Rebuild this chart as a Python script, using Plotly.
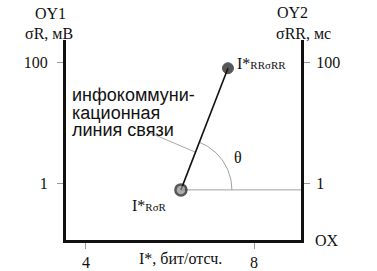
import math
import plotly.graph_objects as go

# ---- data ----
point_x = [6.26, 7.38]          # I*, бит/отсч.
point_y = [0.77, 79.0]          # σR (мВ) / σRR (мс), log scale
x_ticks = [4, 8]
x_tick_labels = ["4", "8"]
y_ticks = [1, 100]
y_tick_labels = ["1", "100"]
text_lines = ["инфокоммуни-", "кационная", "линия связи"]

W, H = 377, 271
ML, MR, MT, MB = 66, 76, 40, 31   # plot-area position in the screenshot
PW, PH = W - ML - MR, H - MT - MB
XR = [3.524, 9.119]
YR = [-0.942, 2.364]  # log10

def d2px(x, y):
    px = ML + (x - XR[0]) / (XR[1] - XR[0]) * PW
    py = MT + (YR[1] - math.log10(y)) / (YR[1] - YR[0]) * PH
    return px, py

def px2d(px, py):
    x = XR[0] + (px - ML) / PW * (XR[1] - XR[0])
    y = 10 ** (YR[1] - (py - MT) / PH * (YR[1] - YR[0]))
    return x, y

def px2paper(px, py):
    return (px - ML) / PW, (MT + PH - py) / PH

fig = go.Figure()

# horizontal reference line from lower point to the right axis
fig.add_trace(go.Scatter(x=[point_x[0], XR[1]], y=[point_y[0], point_y[0]], mode="lines",
                         line=dict(color="#a0a0a0", width=1), hoverinfo="skip", showlegend=False))

# angle arc
p0 = d2px(point_x[0], point_y[0])
p1 = d2px(point_x[1], point_y[1])
theta = math.atan2(p0[1] - p1[1], p1[0] - p0[0])
R = 51
ax_, ay_ = [], []
for i in range(41):
    a = theta * i / 40
    x, y = px2d(p0[0] + R * math.cos(a), p0[1] - R * math.sin(a))
    ax_.append(x); ay_.append(y)
fig.add_trace(go.Scatter(x=ax_, y=ay_, mode="lines", line=dict(color="#a0a0a0", width=1),
                         hoverinfo="skip", showlegend=False))

# leader line from text to the link line
t = 0.31
ex, ey = px2d(p0[0] + t * (p1[0] - p0[0]), p0[1] + t * (p1[1] - p0[1]))
sx, sy = px2d(148, 132)
fig.add_trace(go.Scatter(x=[sx, ex], y=[sy, ey], mode="lines", line=dict(color="#a8a8a8", width=1),
                         hoverinfo="skip", showlegend=False))

# link line
fig.add_trace(go.Scatter(x=point_x, y=point_y, mode="lines", line=dict(color="#111", width=1.6),
                         hoverinfo="skip", showlegend=False))
# points
fig.add_trace(go.Scatter(x=point_x, y=point_y, mode="markers",
                         marker=dict(size=[11, 11], color=["#8a8a8a", "#111"],
                                     line=dict(color="#111", width=[2.5, 1])),
                         hoverinfo="skip", showlegend=False))

serif = "Liberation Serif"
sans = "Liberation Sans"

ann = []
def add_text(text, px, py, size=16, family=serif, xanchor="center", yanchor="middle", color="#111"):
    xp, yp = px2paper(px, py)
    ann.append(dict(text=text, x=xp, y=yp, xref="paper", yref="paper", showarrow=False,
                    xanchor=xanchor, yanchor=yanchor, font=dict(family=family, size=size, color=color)))

add_text("OY1", 50, 13)
add_text("σR, мВ", 49, 34)
add_text("OY2", 292, 12)
add_text("σRR, мс", 303, 33)
add_text("OX", 327, 240)
add_text("I*, бит/отсч.", 180, 258)
add_text("θ", 238, 157)
for i, line in enumerate(text_lines):
    add_text(line, 70, 95 + 17.5 * i, size=18, family=sans, xanchor="left")
add_text("I*<span style='font-size:11px'>RRσRR</span>", 235, 63, xanchor="left")
add_text("I*<span style='font-size:11px'>RσR</span>", 130, 205, xanchor="left")

axis_common = dict(showgrid=False, zeroline=False, showline=True, linecolor="#111", linewidth=3,
                   ticks="outside", ticklen=6, tickcolor="#999", tickwidth=1,
                   tickfont=dict(family=serif, size=16, color="#111"))

fig.update_layout(
    width=W, height=H,
    margin=dict(l=ML, r=MR, t=MT, b=MB, autoexpand=False),
    paper_bgcolor="white", plot_bgcolor="white",
    annotations=ann,
    xaxis=dict(range=XR, tickvals=x_ticks, ticktext=x_tick_labels, **axis_common),
    yaxis=dict(type="log", range=YR, tickvals=y_ticks, ticktext=y_tick_labels,
               ticklabelstandoff=6, **axis_common),
    yaxis2=dict(type="log", range=YR, overlaying="y", side="right", tickvals=y_ticks,
                ticktext=y_tick_labels, ticklabelstandoff=3, **axis_common),
)
# invisible trace to show the right axis
fig.add_trace(go.Scatter(x=[None], y=[None], yaxis="y2", showlegend=False, hoverinfo="skip"))

fig.write_html("out.html", config={"displayModeBar": False},
               post_script="document.body.style.margin='0';")
